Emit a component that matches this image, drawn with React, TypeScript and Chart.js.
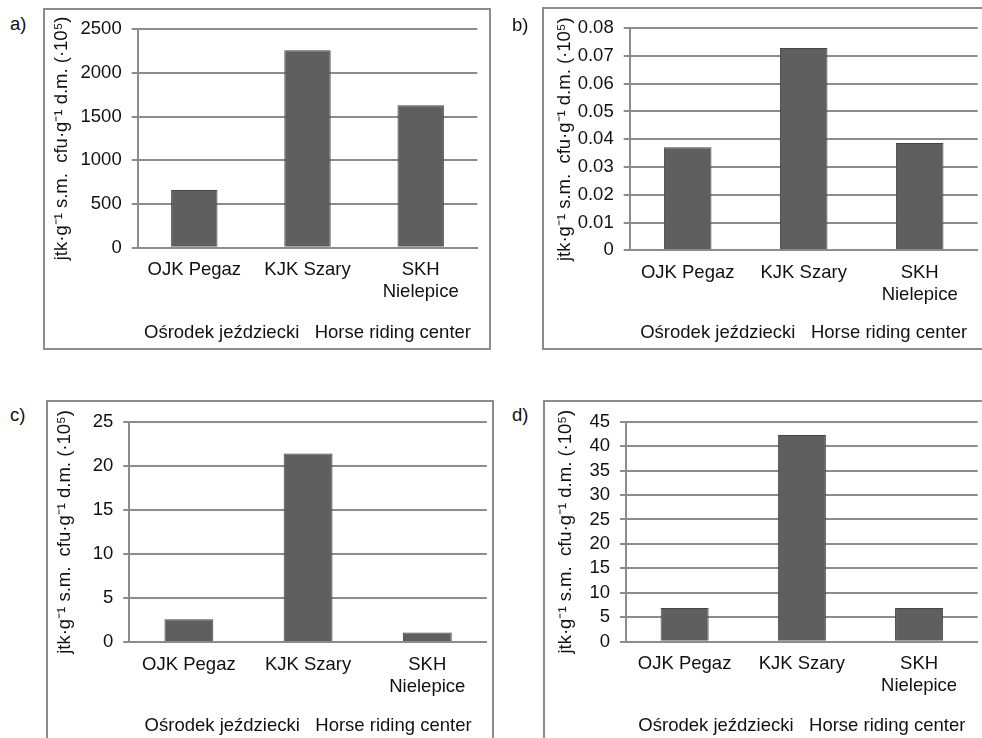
import React, { useEffect, useRef } from "react";
import { Chart, registerables } from "chart.js";

Chart.register(...registerables);

// ---- data ----
const categories: (string | string[])[] = ["OJK Pegaz", "KJK Szary", ["SKH", "Nielepice"]];
const valuesA = [660, 2259, 1629];
const valuesB = [0.0371, 0.0728, 0.0386];
const valuesC = [2.6, 21.4, 1.1];
const valuesD = [6.9, 42.3, 6.9];
const ticksA = [0, 500, 1000, 1500, 2000, 2500];
const ticksB = [0, 0.01, 0.02, 0.03, 0.04, 0.05, 0.06, 0.07, 0.08];
const ticksC = [0, 5, 10, 15, 20, 25];
const ticksD = [0, 5, 10, 15, 20, 25, 30, 35, 40, 45];
const yTitle = "jtk·g⁻¹ s.m.  cfu·g⁻¹ d.m. (·10⁵)";
const xTitle = "Ośrodek jeździecki   Horse riding center";
const panelLabels = ["a)", "b)", "c)", "d)"];

// ---- style / layout ----
const FAMILY = "'Liberation Sans', Arial, sans-serif";
const TEXT = "#111111";
const GRID = "#8c8c8c";
const BAR = "#5f5f5f";
const BAR_BORDER = "#454545";
const FONT_SIZE = 18.5;

type Geo = {
  L: number; T: number; W: number; H: number;
  padTop: number; padRight: number; padBottom: number;
  yWidth: number; xHeight: number;
  yTitlePad: number; xTitlePad: number; xTickPad: number;
  labelX: number; labelY: number;
};

const Y_TITLE_SIZE = 18.5;
const Y_HALF = (Y_TITLE_SIZE * 1.2) / 2;

const geos: Geo[] = [
  { L: 43, T: 8, W: 448, H: 342, padTop: 18.7, padRight: 13.7, padBottom: 0, yWidth: 94.7, xHeight: 102.3, yTitlePad: 18.7 - Y_HALF, xTitlePad: 6, xTickPad: 10.7, labelX: 10, labelY: 13 },
  { L: 542, T: 7, W: 460, H: 343, padTop: 20.3, padRight: 24.3, padBottom: 0, yWidth: 87.7, xHeight: 99.7, yTitlePad: 23 - Y_HALF, xTitlePad: 6, xTickPad: 11.6, labelX: 512, labelY: 14 },
  { L: 46, T: 400, W: 448, H: 400, padTop: 21.7, padRight: 7.1, padBottom: 55.4, yWidth: 83.3, xHeight: 102.3, yTitlePad: 19 - Y_HALF, xTitlePad: 7.6, xTickPad: 11.6, labelX: 10, labelY: 404 },
  { L: 543, T: 400, W: 460, H: 400, padTop: 21.7, padRight: 25.3, padBottom: 56, yWidth: 83, xHeight: 102.3, yTitlePad: 23 - Y_HALF, xTitlePad: 7, xTickPad: 11.2, labelX: 512, labelY: 404 },
];

const seriesList = [valuesA, valuesB, valuesC, valuesD];
const tickList = [ticksA, ticksB, ticksC, ticksD];

function makeConfig(values: number[], ticks: number[], g: Geo): any {
  return {
    type: "bar",
    data: {
      labels: categories,
      datasets: [
        {
          data: values,
          backgroundColor: BAR,
          borderColor: BAR_BORDER,
          borderWidth: 1,
          barPercentage: 0.41,
          categoryPercentage: 1,
        },
      ],
    },
    options: {
      animation: false,
      responsive: false,
      maintainAspectRatio: false,
      layout: { padding: { top: g.padTop, right: g.padRight, left: 0, bottom: g.padBottom } },
      plugins: { legend: { display: false }, tooltip: { enabled: false } },
      scales: {
        x: {
          grid: { display: false, drawTicks: false },
          border: { display: true, color: GRID, width: 2 },
          ticks: {
            color: TEXT,
            font: { family: FAMILY, size: FONT_SIZE },
            padding: g.xTickPad,
            maxRotation: 0,
            autoSkip: false,
          },
          title: {
            display: true,
            text: xTitle,
            color: TEXT,
            font: { family: FAMILY, size: FONT_SIZE },
            padding: { top: 0, bottom: g.xTitlePad },
          },
          afterFit: (s: any) => {
            s.height = g.xHeight;
          },
        },
        y: {
          min: ticks[0],
          max: ticks[ticks.length - 1],
          afterBuildTicks: (s: any) => {
            s.ticks = ticks.map((v) => ({ value: v }));
          },
          grid: { color: GRID, lineWidth: 2, tickLength: 6, drawTicks: true },
          border: { display: true, color: GRID, width: 2 },
          ticks: {
            color: TEXT,
            font: { family: FAMILY, size: FONT_SIZE },
            padding: 10,
            autoSkip: false,
            callback: (v: any) => String(v),
          },
          title: {
            display: true,
            text: yTitle,
            color: TEXT,
            font: { family: FAMILY, size: Y_TITLE_SIZE },
            padding: { top: g.yTitlePad, bottom: 0 },
          },
          afterFit: (s: any) => {
            s.width = g.yWidth;
          },
        },
      },
    },
  };
}

function Panel({ idx }: { idx: number }) {
  const ref = useRef<HTMLCanvasElement | null>(null);
  const g = geos[idx];
  useEffect(() => {
    if (!ref.current) return;
    const chart = new Chart(ref.current, makeConfig(seriesList[idx], tickList[idx], g));
    return () => chart.destroy();
  }, [idx]);
  return (
    <>
      <div
        style={{
          position: "absolute",
          left: g.L,
          top: g.T,
          width: g.W,
          height: g.H,
        }}
      >
        <canvas ref={ref} width={g.W} height={g.H} style={{ width: g.W, height: g.H, display: "block" }} />
        <div
          style={{
            position: "absolute",
            left: 0,
            top: 0,
            width: g.W,
            height: g.H,
            border: `2px solid ${GRID}`,
            boxSizing: "border-box",
            pointerEvents: "none",
          }}
        />
      </div>
      <div
        style={{
          position: "absolute",
          left: g.labelX,
          top: g.labelY,
          fontFamily: FAMILY,
          fontSize: FONT_SIZE,
          lineHeight: "22px",
          color: TEXT,
        }}
      >
        {panelLabels[idx]}
      </div>
    </>
  );
}

export default function App() {
  return (
    <div
      style={{
        position: "absolute",
        left: 0,
        top: 0,
        width: 982,
        height: 738,
        overflow: "hidden",
        background: "#fff",
      }}
    >
      {[0, 1, 2, 3].map((i) => (
        <Panel key={i} idx={i} />
      ))}
    </div>
  );
}
